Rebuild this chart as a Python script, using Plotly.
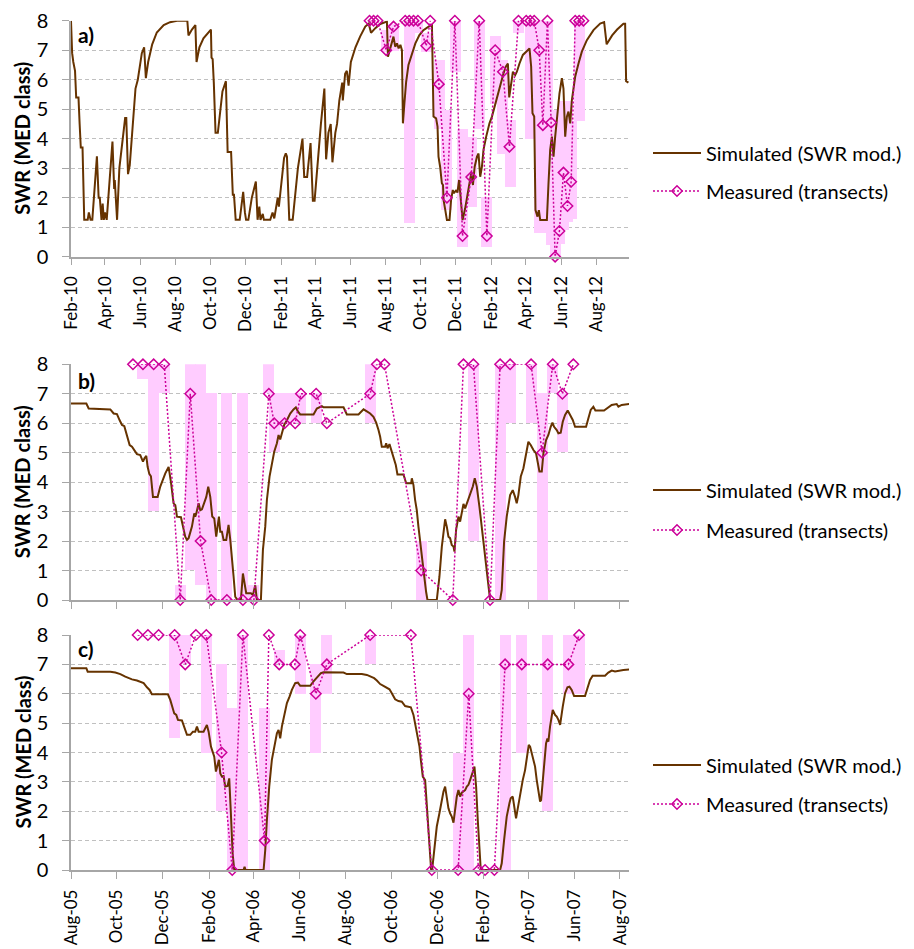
import plotly.graph_objects as go
import pandas as pd

# ---------------- DATA ----------------
# time values are day offsets from the panel start date
START_A = "2010-02-01"
START_BC = "2005-08-01"
END_A = "2012-09-27"
END_BC = "2007-08-13"

sim_a = [(0,8.0),(1,7.0),(2,6.9),(4,6.6),(7,6.3),(9,5.4),(13,5.4),(15,4.5),(17,3.7),(20,3.7),(23,1.25),(29,1.25),(31,1.5),(34,1.25),(37,1.25),(45,3.4),(48,2.0),(50,2.0),(53,1.25),(55,1.8),(57,1.25),(59,1.5),(62,1.25),(72,3.9),(75,2.3),(76,2.6),(80,1.25),(84,3.0),(94,4.7),(96,4.7),(99,2.8),(102,3.1),(107,4.5),(112,5.7),(116,6.0),(123,6.9),(127,7.1),(130,6.05),(134,6.6),(141,7.2),(149,7.6),(161,7.85),(172,7.95),(184,8.0),(202,8.0),(204,7.5),(210,7.7),(216,7.85),(218,6.6),(223,7.1),(230,7.4),(239,7.6),(243,7.7),(244,6.75),(246,6.7),(248,5.9),(251,4.2),(255,4.2),(259,5.0),(263,5.6),(269,5.95),(272,3.55),(278,3.55),(281,2.1),(283,2.1),(286,1.25),(293,1.25),(299,2.2),(302,1.5),(304,1.25),(308,1.25),(314,2.0),(321,2.55),(324,1.25),(327,1.7),(329,1.25),(333,1.45),(335,1.25),(346,1.25),(350,1.5),(353,1.3),(359,2.0),(361,1.7),(370,3.35),(373,3.5),(375,3.4),(379,1.25),(385,1.25),(394,3.0),(402,4.0),(405,2.7),(410,2.7),(416,3.85),(420,1.9),(423,1.9),(430,3.7),(434,4.5),(440,5.7),(443,3.3),(447,4.2),(451,4.5),(454,3.2),(459,4.2),(462,4.5),(466,5.3),(471,5.9),(472,5.3),(476,6.2),(479,6.3),(482,5.8),(486,6.6),(494,7.1),
         (502,7.46),(511,7.8),(517,7.9),(521,7.59),(528,7.74),(537,7.89),(546,7.97),(548.6,7.97),(550.4,6.78),(553,6.95),(557,7.23),(560,7.46),(563,7.12),(566,7.23),(569,7.06),(572,7.18),(574.7,7.0),(576.4,4.52),(579,5.2),(582,5.93),(586,6.5),(592,6.89),(598,7.23),(605,7.51),(612,7.68),(621,7.8),(626.8,7.85),(629.5,4.75),(634,4.69),(636.5,4.41),(638.2,3.39),(641,3.05),(644,2.49),(646,2.43),(647,1.92),(650,1.58),(652.8,1.24),(657.3,1.24),(660,1.92),(663,2.26),(665,2.15),(669,2.26),(671,2.17),(674,2.6),(677,1.81),(680,1.24),(684.5,1.64),(688.5,2.03),(692,2.49),(695,2.82),(698,2.43),(701,3.05),(705,3.39),(707.7,3.5),(710.6,2.71),(713.6,3.05),(716.3,3.62),(721,4.07),(726.7,4.52),(731,4.75),(735.4,5.08),(739.6,5.42),(745.3,5.88),(751,6.21),(755,6.44),(758.7,6.55),(761,5.4),(764,5.88),(767.4,6.27),(771.4,6.16),(774.3,6.27),(778.8,6.55),(784.7,6.84),(790.5,6.95),(796.2,7.06),(799.1,6.44),(801.4,4.86),(804.4,4.75),(806.6,1.58),(810.1,1.36),(812.5,1.58),(814.8,1.24),(826.4,1.24),(829.2,2.49),(832.1,3.62),(835.1,4.07),(837.9,3.39),(840.8,4.07),(844.8,4.97),(848.3,5.54),(852.4,6.05),(855.2,5.7),(858.2,4.07),(861.1,4.75),(863.9,4.92),(866.9,4.52),(869.8,5.31),(875.5,6.1),(881.3,6.55),(887.1,6.95),(895.8,7.34),(907.3,7.68),(918.9,7.9),(925.8,7.95),(930.2,7.2),(939.7,7.5),(948.4,7.7),(959.3,7.9),(962.3,7.9),(964,5.95),(968,5.9)]

meas_a = [(518.4,8),(525.4,8),(532.3,8),(547.4,7.0),(560.1,7.8),(580.4,8),(587.3,8),(594.8,8),(602.4,8),(616.9,7.15),(623.8,8),(638.9,5.85),(652.8,2.0),(666.6,8),(679.9,0.7),(695,2.7),(708.9,8),(722.2,0.7),(736.6,7.0),(750,6.27),(761.4,3.73),(777.1,8),(790.5,8),(797.5,8),(804.4,8),(813.1,7.0),(819.4,4.46),(827.4,8),(833.8,4.55),(840.7,0),(848.2,0.87),(855.2,2.85),(862.2,1.72),(868.6,2.54),(875.6,8),(882.4,8),(889.9,8)]

range_a = [(547.4,6.95,7.7),(560.1,7.0,7.9),(588.2,1.15,8),(601,7.6,8),(616.9,6.95,7.6),(640,4.35,6.69),(652.8,1.6,4.97),(667.2,6.27,8),(679.9,0.34,4.35),(695,1.7,4.07),(708.9,4.35,8),(722.2,0.34,2.03),(736.6,5.2,7.48),(750,3.48,6.69),(762.7,2.37,4.63),(777.8,7.6,8),(797.5,4.0,8),(813.1,0.8,8),(827.4,0.8,8),(833.8,0.4,5.0),(840.7,0,4.8),(848.2,0.45,4.8),(855.2,0.9,5.3),(862.2,1.2,5.3),(868.6,1.3,4.6),(882.4,4.6,8)]

sim_b = [(0,6.67),(20.4,6.67),(23.5,6.5),(52.3,6.47),(56.7,6.33),(61.1,6.31),(64.7,6.1),(67.8,5.94),(70.9,5.9),(74.4,5.54),(78,5.26),(81.1,5.2),(84.2,5.09),(87.7,4.95),(92.1,4.92),(95.7,4.7),(97.9,4.82),(100.1,4.89),(101.9,4.52),(104.1,4.28),(106.3,4.2),(109,3.5),(115.2,3.5),(118.7,3.85),(125.4,4.3),(129.8,4.52),(132.9,4.0),(136.4,3.28),(138.7,3.22),(140.9,2.83),(146.2,2.81),(148.8,2.49),(151.9,2.15),(154.2,2.04),(156.4,2.1),(160.8,2.49),(163.9,2.94),(165.2,2.83),(166.6,2.94),(169.7,3.28),(171.9,3.05),(174.1,3.08),(177.2,3.28),(179.9,3.5),(182.5,3.85),(185.2,3.5),(187.8,2.83),(190.5,2.77),(193.1,2.15),(194.9,2.55),(196.7,2.83),(198.5,2.32),(200.7,2.32),(202.9,2.04),(206.4,2.04),(209.5,2.55),(211.8,2.04),(216.2,0.79),(218.4,0.11),(221.5,0),(225.9,0),(228.6,0.9),(230.8,0.5),(233,0.23),(239.2,0.23),(241.9,0.17),(245,0.5),(247.2,0),(252.5,0),(255.2,1.7),(258.3,2.49),(260.5,3.4),(264,4.19),(267.1,4.64),(270.2,5.03),(273.8,5.32),(276,5.6),(278.2,5.45),(280.4,5.66),(283.5,5.94),(287.1,6.1),(291.5,6.33),(295.9,6.47),(299,6.54),(301.7,6.4),(304.8,6.3),(322.5,6.3),(326.9,6.5),(333.6,6.58),(335.8,6.54),(362.4,6.54),(366.8,6.3),(382.3,6.3),(389,6.47),(393.4,6.4),(397.8,6.33),(402.2,6.22),(405.8,6.02),(408.9,5.77),(411.1,5.54),(413.3,5.2),(417.7,5.2),(419.1,5.32),(420.9,5.15),(423.5,5.29),(425.7,5.09),(428.8,4.86),(431.9,4.58),(434.1,4.26),(442.1,4.26),(445.7,3.96),(452.3,3.96),(453.2,4.13),(455.4,3.9),(457.6,3.39),(459.8,3.05),(462,2.49),(465.2,1.7),(468.7,1.02),(472.2,0.28),(474,0),(486.4,0),(489.9,0.79),(493.1,1.81),(497.5,2.74),(499.7,2.49),(501.9,2.15),(504.1,2.1),(506.3,1.87),(508.6,1.81),(509.9,1.64),(512.1,2.38),(515.2,2.83),(517.4,2.66),(519.6,2.94),(521.9,3.26),(524.1,3.11),(526.3,3.28),(528.5,3.39),(530.7,3.62),(534.3,3.85),(536.9,4.13),(539.6,3.85),(543.1,3.17),(546.2,2.49),(549.3,1.7),(552,1.02),(555.1,0.34),(557.3,0),(570.6,0),(572.8,0.34),(575.9,1.98),(579.4,2.83),(583.9,3.56),(587.4,3.73),(590.5,3.5),(592.7,3.28),(594.9,3.56),(598.1,4.19),(601.6,4.47),(605.1,4.98),(608.2,5.37),(611.3,5.26),(614.9,5.09),(618.4,4.98),(620.2,4.75),(622.9,4.36),(626,4.36),(628.2,4.98),(631.7,5.43),(634.8,5.6),(637.9,5.88),(640.2,6.02),(642.4,5.88),(645.9,5.77),(648.1,5.66),(651.2,5.68),(653.9,6.05),(657,6.28),(660.5,6.43),(663.6,6.28),(667.2,6.11),(670.3,5.88),(684.9,5.88),(688,6.17),(691.1,6.45),(694.6,6.56),(697.3,6.43),(708.8,6.43),(712.3,6.5),(719,6.62),(725.6,6.65),(727.9,6.56),(732.3,6.62),(738.9,6.65),(742.5,6.65)]

meas_b = [(82.4,8),(95.7,8),(109.9,8),(124,8),(145.3,0),(158.6,7),(172.3,2),(186.5,0),(207.3,0),(228.6,0),(243.2,0),(263.1,7),(270.2,6),(284,6),(298.1,6),(305.7,7),(326,7),(340.2,6),(397.8,7),(406.7,8),(416.9,8),(465.6,1),(507.7,0),(521.9,8),(535.1,8),(557.3,0),(570.6,8),(583.9,8),(611.8,8),(626.4,5),(640.6,8),(653.4,7),(668,8)]

range_b = [(95.7,7.5,8),(109.9,3,8),(124,7,8),(145.3,0,0.5),(158.6,1,8),(172.3,0.5,8),(186.5,0,7),(207.3,0,7),(228.6,0,7),(243.2,0,0.5),(263.1,7,8),(270.2,5,7),(284,6,7),(298.1,6,7),(305.7,6,7),(326,6,7),(397.8,6,8),(465.6,0,2),(535.1,2,8),(570.6,0,8),(583.9,6,8),(611.8,6,8),(626.4,0,7),(640.6,7,8),(653.4,5,7)]

sim_c = [(0,6.87),(20.4,6.87),(22.2,6.75),(52.3,6.75),(58.9,6.72),(65.6,6.67),(72.2,6.58),(76.6,6.53),(81.1,6.49),(87.7,6.45),(92.1,6.41),(96.6,6.36),(101,6.22),(104.5,6.13),(107.6,5.98),(128.9,5.98),(132,5.79),(134.2,5.56),(137.3,5.33),(140,5.28),(142.2,5.11),(147.5,5.09),(151.9,4.77),(154.2,4.6),(158.6,4.6),(162.1,4.71),(165.2,4.71),(167.5,4.88),(169.7,4.71),(176.3,4.71),(180.7,4.94),(183,4.71),(186.1,4.2),(188.7,3.97),(190.5,3.86),(192.7,3.35),(194.9,3.63),(196.7,3.75),(198.5,3.29),(200.7,3.18),(202.9,3.2),(205.1,2.84),(208.2,2.86),(210.4,3.12),(212.6,1.93),(214.9,0.57),(217.1,0),(229.5,0),(230.8,0.11),(232.1,0),(256.1,0),(258.3,0.68),(260.5,1.7),(263.6,2.84),(267.1,3.75),(270.2,4.2),(273.8,4.65),(276,4.77),(278.2,4.48),(280.4,4.88),(283.5,5.28),(287.1,5.68),(290.6,5.9),(293.7,6.13),(298.1,6.36),(301.7,6.38),(304.8,6.27),(318.1,6.27),(322.5,6.42),(326.9,6.56),(332.3,6.7),(335.8,6.73),(362.4,6.72),(366.8,6.67),(386.7,6.67),(393.4,6.64),(397.8,6.58),(403.1,6.53),(406.7,6.45),(411.1,6.33),(415.5,6.27),(419.1,6.22),(423.5,6.15),(426.6,6.02),(431,5.81),(435.4,5.75),(439.9,5.73),(444.3,5.58),(448.8,5.56),(451.9,5.54),(455.4,5.28),(458.5,4.88),(460.7,4.65),(463.4,4.2),(465.2,3.75),(467.8,3.18),(470.9,3.06),(473.1,2.16),(475.3,1.25),(477.6,0.34),(478.9,0),(480.2,0),(483.3,0.8),(486.4,1.48),(489.9,1.93),(493.1,2.38),(495.3,2.67),(497.5,2.84),(499.7,2.44),(501.9,2.1),(504.1,1.93),(506.3,1.82),(508.6,1.61),(509.9,1.93),(513,2.5),(515.2,2.72),(517.4,2.5),(519.6,2.63),(521.9,2.67),(524.1,2.72),(526.3,2.84),(528.5,2.9),(530.7,3.06),(532.9,3.2),(535.1,3.4),(536.5,3.52),(538.7,2.84),(540.9,1.7),(543.1,0.57),(544.9,0),(570.6,0),(572.8,0.23),(575.9,1.02),(579.4,1.82),(583,2.27),(584.7,2.44),(587.4,2.5),(589.2,2.16),(591.8,1.76),(594.1,2.1),(597.2,2.61),(600.7,3.06),(603.8,3.4),(606,3.75),(608.7,4.26),(610.5,4.2),(612.7,3.97),(614.9,3.75),(617.1,3.52),(619.3,3.06),(621.5,2.61),(623.8,2.33),(625.1,2.38),(626.8,2.95),(629.5,3.75),(631.7,4.31),(633.5,4.48),(634.8,4.37),(637,4.88),(639.2,5.28),(640.6,5.45),(643.7,5.28),(645.9,5.22),(648.1,5.11),(650.4,4.94),(653.9,5.56),(657,6.02),(660.1,6.22),(662.8,6.24),(665.8,6.13),(669,5.92),(683.5,5.92),(686.6,6.18),(690.2,6.47),(693.7,6.61),(710.1,6.61),(714.5,6.72),(719,6.79),(723.4,6.76),(727.9,6.79),(734.5,6.81),(742.5,6.83)]

meas_c = [(88.6,8),(102.3,8),(116.5,8),(137.8,8),(151.9,7),(166.1,8),(179.9,8),(200.2,4),(214.4,0),(228.6,8),(257.4,1),(263.1,8),(276.9,7),(297.7,7),(304.8,8),(325.6,6),(340.2,7),(397.8,8),(451.9,8),(479.8,0),(514.8,0),(528.9,6),(541.8,0),(550.6,0),(563,0),(577.2,7),(599.4,7),(633.9,7),(661.4,7),(675.6,8)]

range_c = [(137.8,4.5,8),(151.9,7,8),(179.9,4,8),(200.2,2,7),(214.4,0,5.5),(228.6,0,8),(257.4,0,5.5),(276.9,7,7.5),(304.8,6,8),(325.6,4,7),(340.2,6,8),(397.8,7,8),(514.8,0,4),(528.9,0,8),(577.2,0,8),(599.4,4,8),(633.9,2,8),(661.4,6,8),(675.6,6,8)]

panel_labels = ["a)", "b)", "c)"]
sim_name = "Simulated (SWR mod.)"
meas_name = "Measured (transects)"
y_title = "SWR (MED class)"

# ---------------- STYLE ----------------
OFF = 8                      # page body margin of the html page
W, H = 914 - OFF, 949 - OFF  # figure size so it fits in the window
FONT = "Lato"
BROWN = "#663300"
MAGENTA = "#CC0099"
PINK = "#FFCCFF"
AXIS = "#A6A6A6"
GRID = "#C0C0C0"
DAY_MS = 86400000


def to_dates(start, days):
    return [pd.Timestamp(start) + pd.Timedelta(days=float(d)) for d in days]


def px_x(px):
    return (px - OFF) / W


def px_y(py):
    return 1 - (py - OFF) / H


panels = [
    dict(start=START_A, end=END_A, sim=sim_a, meas=meas_a, rng=range_a, top=20.7, bot=256.7,
         barw=19, labels=True, lab_y=35, leg=(153, 191)),
    dict(start=START_BC, end=END_BC, sim=sim_b, meas=meas_b, rng=range_b, top=364.3, bot=600,
         barw=14.6, labels=False, lab_y=380, leg=(490, 530)),
    dict(start=START_BC, end=END_BC, sim=sim_c, meas=meas_c, rng=range_c, top=635, bot=870,
         barw=14.6, labels=True, lab_y=648, leg=(765, 804)),
]

fig = go.Figure()
layout = dict(width=W, height=H, margin=dict(l=0, r=0, t=0, b=0, autoexpand=False),
              paper_bgcolor="white", plot_bgcolor="white",
              font=dict(family=FONT, size=18, color="#000000"),
              bargap=0, showlegend=True, annotations=[])

for i, p in enumerate(panels):
    k = "" if i == 0 else str(i + 1)
    xa, ya = "x" + k, "y" + k
    lg_sim = "legend" if i == 0 else "legend" + str(2 * i + 1)
    lg_meas = "legend" + str(2 * i + 2)

    c, lo, hi = zip(*p["rng"])
    fig.add_trace(go.Bar(x=to_dates(p["start"], c), y=[h - l for l, h in zip(lo, hi)], base=list(lo),
                         width=[p["barw"] * DAY_MS] * len(c), marker=dict(color=PINK, line=dict(width=0)),
                         xaxis=xa, yaxis=ya, showlegend=False, hoverinfo="skip"))
    d, v = zip(*p["sim"])
    fig.add_trace(go.Scatter(x=to_dates(p["start"], d), y=list(v), mode="lines", name=sim_name,
                             line=dict(color=BROWN, width=2), xaxis=xa, yaxis=ya, legend=lg_sim))
    d, v = zip(*p["meas"])
    fig.add_trace(go.Scatter(x=to_dates(p["start"], d), y=list(v), mode="lines+markers", name=meas_name,
                             line=dict(color=MAGENTA, width=1.5, dash="2px,2px"),
                             marker=dict(symbol="diamond-open", size=8, color=MAGENTA, line=dict(width=1.5)),
                             cliponaxis=False, xaxis=xa, yaxis=ya, legend=lg_meas))

    layout["xaxis" + k] = dict(domain=[px_x(71), px_x(629)], anchor=ya, type="date",
                               range=[p["start"], p["end"]], tick0=p["start"], dtick="M2",
                               tickformat="%b-%y", tickangle=-90, ticks="outside", ticklen=7,
                               tickcolor=AXIS, showline=True, linecolor=AXIS, linewidth=1.5,
                               showgrid=False, zeroline=False, showticklabels=p["labels"],
                               tickfont=dict(size=17, family=FONT), ticklabelstandoff=4,
                               ticklabeloverflow="allow")
    layout["yaxis" + k] = dict(domain=[px_y(p["bot"]), px_y(p["top"])], anchor=xa, range=[0, 8],
                               dtick=1, tick0=0, ticks="outside", ticklen=7, tickcolor=AXIS,
                               showline=True, linecolor=AXIS, linewidth=1.5, showgrid=True,
                               gridcolor=GRID, griddash="4px,3px", gridwidth=1, zeroline=False,
                               tickfont=dict(size=20, family=FONT), ticklabelstandoff=10,
                               ticklabeloverflow="allow")
    layout["annotations"].append(dict(text="<b>" + panel_labels[i] + "</b>", xref="paper", yref="paper",
                                      x=px_x(76), y=px_y(p["lab_y"]), xanchor="left", yanchor="middle",
                                      showarrow=False, font=dict(size=21, family=FONT)))
    layout["annotations"].append(dict(text="<b>" + y_title + "</b>", xref="paper", yref="paper",
                                      x=px_x(22), y=px_y((p["top"] + p["bot"]) / 2), xanchor="center",
                                      yanchor="middle", textangle=-90, showarrow=False,
                                      font=dict(size=20, family=FONT)))
    for lg, yy in ((lg_sim, p["leg"][0]), (lg_meas, p["leg"][1])):
        layout[lg] = dict(x=px_x(648), y=px_y(yy), xanchor="left", yanchor="middle",
                          bgcolor="rgba(0,0,0,0)", borderwidth=0, itemwidth=48,
                          font=dict(size=20, family=FONT, color="#000000"))

fig.update_layout(**layout)
fig.write_html("out.html")
